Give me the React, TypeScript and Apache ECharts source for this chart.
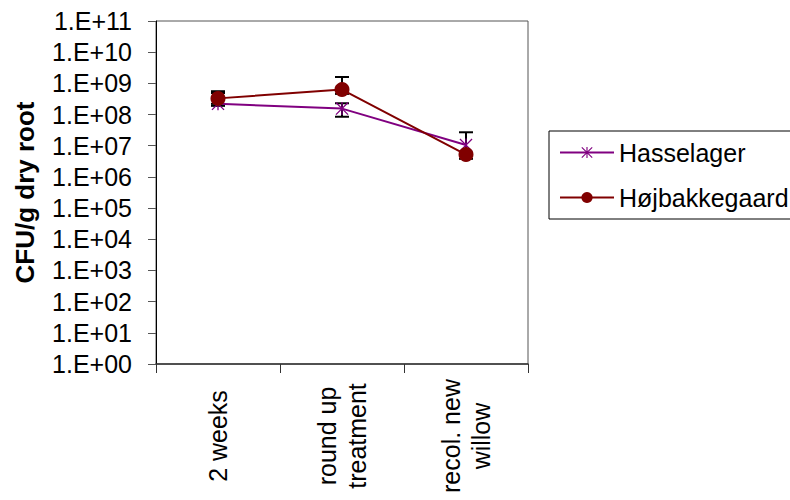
import React, { useEffect, useRef } from "react";
import * as echarts from "echarts";

const categories = ["2 weeks", "round up\ntreatment", "recol. new\nwillow"];
const seriesNames = ["Hasselager", "Højbakkegaard"];
const hasselager = [2.2e8, 1.55e8, 1.05e7];
const hasselagerLow = [1.9e8, 8.5e7, 5.0e6];
const hasselagerHigh = [4.9e8, 2.3e8, 2.7e7];
const hojbakkegaard = [3.3e8, 6.3e8, 5.2e6];
const hojbakkegaardLow = [2.2e8, 4.6e8, 3.8e6];
const hojbakkegaardHigh = [5.6e8, 1.6e9, 6.0e6];
const yMin = 1;
const yMax = 1e11;

const FONT = "'Liberation Sans', Arial, sans-serif";
const ASTERISK =
  "path://M9 0 L11 0 L11 20 L9 20 Z M0 1.4 L1.4 0 L20 18.6 L18.6 20 Z M18.6 0 L20 1.4 L1.4 20 L0 18.6 Z";

function errorData(low: number[], high: number[]) {
  return low.map((l, i) => [i, l, high[i]]);
}

function renderErrorBar(params: any, api: any) {
  const x = api.value(0);
  const lo = api.coord([x, api.value(1)]);
  const hi = api.coord([x, api.value(2)]);
  const w = 7;
  const style = { stroke: "#000", lineWidth: 2 };
  return {
    type: "group",
    children: [
      { type: "line", shape: { x1: hi[0], y1: hi[1], x2: lo[0], y2: lo[1] }, style },
      { type: "line", shape: { x1: hi[0] - w, y1: hi[1], x2: hi[0] + w, y2: hi[1] }, style },
      { type: "line", shape: { x1: lo[0] - w, y1: lo[1], x2: lo[0] + w, y2: lo[1] }, style },
    ],
  };
}

export default function App() {
  const ref = useRef<HTMLDivElement>(null);
  useEffect(() => {
    if (!ref.current) return;
    const chart = echarts.init(ref.current, null, { renderer: "svg" });
    chart.setOption({
      animation: false,
      backgroundColor: "#fff",
      textStyle: { fontFamily: FONT },
      grid: {
        left: 156,
        top: 21,
        right: 262,
        bottom: 136,
        show: true,
        borderColor: "#555",
        borderWidth: 1,
      },
      legend: {
        orient: "vertical",
        left: 549,
        top: 131,
        padding: [9, 30, 9, 10],
        itemGap: 20,
        itemWidth: 54,
        itemHeight: 14,
        borderColor: "#000",
        borderWidth: 1,
        data: seriesNames,
        textStyle: { fontSize: 25, color: "#000", fontFamily: FONT },
      },
      xAxis: {
        type: "category",
        data: categories,
        boundaryGap: true,
        axisLine: { lineStyle: { color: "#333", width: 1.5 } },
        axisTick: { show: true, length: 9, alignWithLabel: false, lineStyle: { color: "#333" } },
        axisLabel: {
          rotate: 90,
          align: "center",
          verticalAlign: "middle",
          margin: 72,
          fontSize: 25,
          lineHeight: 30,
          color: "#000",
          fontFamily: FONT,
          interval: 0,
        },
        splitLine: { show: false },
      },
      yAxis: {
        type: "log",
        logBase: 10,
        min: yMin,
        max: yMax,
        interval: 1,
        name: "CFU/g dry root",
        nameLocation: "middle",
        nameGap: 118,
        nameTextStyle: { fontSize: 26, fontWeight: "bold", color: "#000", fontFamily: FONT },
        axisLine: { show: true, lineStyle: { color: "#000", width: 1 } },
        axisTick: { show: true, inside: false, length: 8, lineStyle: { color: "#555" } },
        minorTick: { show: false },
        splitLine: { show: false },
        axisLabel: {
          margin: 24,
          fontSize: 25,
          color: "#000",
          fontFamily: FONT,
          hideOverlap: false,
          formatter: (v: number) => {
            const e = Math.round(Math.log10(v));
            return "1.E+" + (e < 10 ? "0" + e : String(e));
          },
        },
      },
      series: [
        {
          type: "custom",
          name: "errH",
          renderItem: renderErrorBar,
          data: errorData(hasselagerLow, hasselagerHigh),
          encode: { x: 0, y: [1, 2] },
          z: 1,
          silent: true,
        },
        {
          type: "custom",
          name: "errJ",
          renderItem: renderErrorBar,
          data: errorData(hojbakkegaardLow, hojbakkegaardHigh),
          encode: { x: 0, y: [1, 2] },
          z: 1,
          silent: true,
        },
        {
          type: "line",
          name: seriesNames[0],
          data: hasselager,
          symbol: ASTERISK,
          symbolSize: 13,
          showAllSymbol: true,
          lineStyle: { color: "#800080", width: 2 },
          itemStyle: { color: "#800080" },
          z: 3,
        },
        {
          type: "line",
          name: seriesNames[1],
          data: hojbakkegaard,
          symbol: "circle",
          symbolSize: 15,
          showAllSymbol: true,
          lineStyle: { color: "#800000", width: 2 },
          itemStyle: { color: "#800000" },
          z: 4,
        },
      ],
    });
    return () => chart.dispose();
  }, []);
  return (
    <div
      ref={ref}
      style={{ position: "fixed", left: 0, top: 0, width: 790, height: 500 }}
    />
  );
}
